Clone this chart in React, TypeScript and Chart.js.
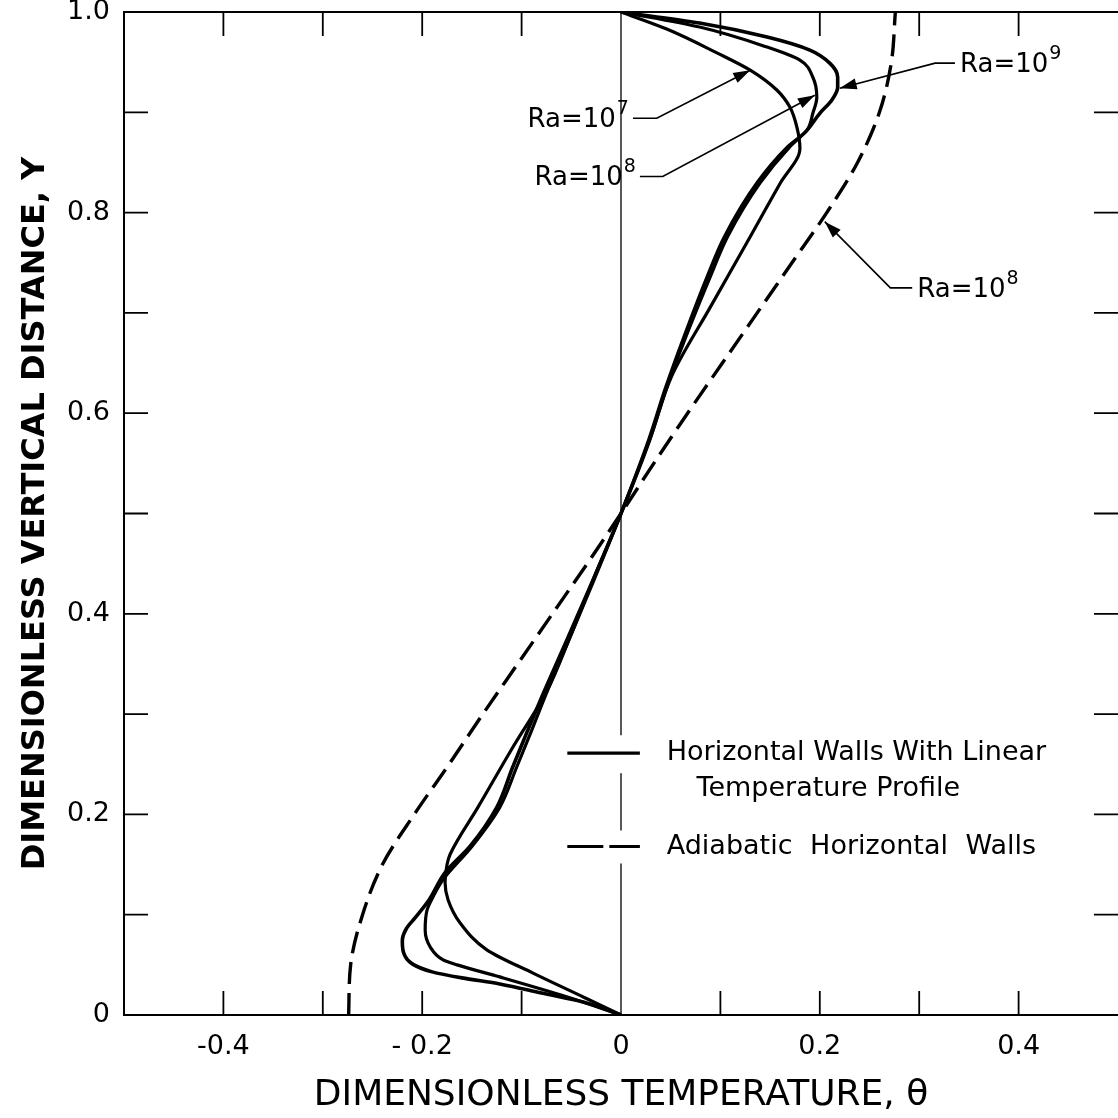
import React, { useEffect, useRef } from "react";
import { Chart, registerables } from "chart.js";

Chart.register(...registerables);

// ---------- data ----------
// Ra = 10^9, horizontal walls with linear temperature profile
const ra9Theta = [0, -0.038, -0.08, -0.122, -0.16, -0.19, -0.21, -0.219, -0.22, -0.216, -0.207, -0.193, -0.177, -0.152, -0.125, -0.109, -0.095, -0.078, -0.054, -0.028, 0, 0.029, 0.046, 0.069, 0.09, 0.107, 0.14, 0.169, 0.187, 0.2, 0.212, 0.218, 0.218, 0.21, 0.19, 0.147, 0.079, 0];
const ra9Y = [0, 0.013, 0.022, 0.031, 0.037, 0.043, 0.051, 0.063, 0.074, 0.086, 0.097, 0.115, 0.142, 0.168, 0.207, 0.247, 0.281, 0.321, 0.375, 0.434, 0.5, 0.574, 0.626, 0.686, 0.737, 0.776, 0.83, 0.865, 0.882, 0.899, 0.912, 0.925, 0.935, 0.949, 0.962, 0.975, 0.989, 1];

// Ra = 10^8, linear profile
const ra8Theta = [0, -0.054, -0.122, -0.165, -0.179, -0.192, -0.197, -0.195, -0.189, -0.179, -0.15, -0.122, -0.105, -0.091, -0.075, -0.052, -0.027, 0, 0.028, 0.045, 0.067, 0.087, 0.104, 0.137, 0.167, 0.187, 0.193, 0.197, 0.193, 0.18, 0.147, 0.079, 0];
const ra8Y = [0, 0.018, 0.038, 0.05, 0.055, 0.068, 0.085, 0.105, 0.118, 0.135, 0.168, 0.207, 0.247, 0.281, 0.321, 0.375, 0.434, 0.5, 0.574, 0.626, 0.686, 0.737, 0.776, 0.83, 0.865, 0.882, 0.899, 0.915, 0.935, 0.952, 0.965, 0.985, 1];

// Ra = 10^7, linear profile
const ra7Theta = [0, -0.038, -0.089, -0.135, -0.162, -0.174, -0.177, -0.175, -0.172, -0.144, -0.11, -0.074, -0.052, -0.028, 0, 0.029, 0.051, 0.09, 0.13, 0.16, 0.18, 0.177, 0.17, 0.157, 0.13, 0.097, 0.046, 0];
const ra7Y = [0, 0.018, 0.042, 0.065, 0.092, 0.115, 0.132, 0.15, 0.16, 0.207, 0.265, 0.324, 0.375, 0.434, 0.5, 0.574, 0.637, 0.706, 0.776, 0.829, 0.864, 0.885, 0.905, 0.922, 0.942, 0.959, 0.983, 1];

// Ra = 10^8, adiabatic horizontal walls
const adiaTheta = [-0.274, -0.272, -0.26, -0.24, -0.208, -0.173, -0.139, -0.104, -0.069, -0.034, 0, 0.033, 0.067, 0.102, 0.137, 0.172, 0.207, 0.238, 0.26, 0.272, 0.276];
const adiaY = [0, 0.05, 0.1, 0.15, 0.2, 0.25, 0.3, 0.35, 0.4, 0.45, 0.5, 0.55, 0.6, 0.65, 0.7, 0.75, 0.8, 0.85, 0.9, 0.95, 1.0];

// theta = 0 reference line
const zeroLineTheta = [0, 0];
const zeroLineY = [0, 1];

// tick labels
const xTickValues = [-0.4, -0.2, 0, 0.2, 0.4];
const xTickLabels = ["-0.4", "- 0.2", "0", "0.2", "0.4"];
const yTickValues = [0, 0.2, 0.4, 0.6, 0.8, 1.0];
const yTickLabels = ["0", "0.2", "0.4", "0.6", "0.8", "1.0"];

const xTitle = "DIMENSIONLESS TEMPERATURE, \u03B8";
const yTitle = "DIMENSIONLESS VERTICAL DISTANCE, Y";

// annotations (labels with arrows), in data coordinates
const annoBase = ["Ra=10", "Ra=10", "Ra=10", "Ra=10"];
const annoExp = ["7", "8", "9", "8"];
const annoTextTheta = [-0.094, -0.087, 0.341, 0.298];
const annoTextY = [0.892, 0.834, 0.947, 0.723];
const annoBendTheta = [0.036, 0.042, 0.316, 0.271];
const annoTipTheta = [0.13, 0.195, 0.22, 0.205];
const annoTipY = [0.942, 0.917, 0.924, 0.791];

// legend
const legendLine1 = ["Horizontal Walls With Linear", "Temperature Profile"];
const legendLine2 = ["Adiabatic Horizontal Walls"];
const legendSampleTheta = [-0.054, 0.019];
const legendTextTheta = [0.046, 0.076];
const legendY = [0.261, 0.225, 0.168];

const FONT = '"DejaVu Sans", "Noto Sans", sans-serif';
const TICK = 24;

const pts = (xs: number[], ys: number[]) => xs.map((x, i) => ({ x, y: ys[i] }));

function arrowHead(ctx: CanvasRenderingContext2D, fx: number, fy: number, tx: number, ty: number) {
  const ang = Math.atan2(ty - fy, tx - fx);
  const L = 17;
  const W = 5.5;
  const c = Math.cos(ang);
  const s = Math.sin(ang);
  ctx.beginPath();
  ctx.moveTo(tx, ty);
  ctx.lineTo(tx - L * c + W * s, ty - L * s - W * c);
  ctx.lineTo(tx - L * c - W * s, ty - L * s + W * c);
  ctx.closePath();
  ctx.fill();
}

const framePlugin = {
  id: "framePlugin",
  afterDatasetsDraw(chart: any) {
    const { ctx, chartArea: a, scales } = chart;
    const xs = scales.x;
    const ys = scales.y;
    const px = (v: number) => xs.getPixelForValue(v);
    const py = (v: number) => ys.getPixelForValue(v);
    ctx.save();

    // ---- legend ----
    const sx0 = px(legendSampleTheta[0]);
    const sx1 = px(legendSampleTheta[1]);
    const ly1 = py(legendY[0]);
    const ly3 = py(legendY[2]);
    ctx.fillStyle = "#fff";
    ctx.fillRect(sx0 - 4, ly1 - 18, sx1 - sx0 + 8, 38);
    ctx.fillRect(sx0 - 4, ly3 - 16, sx1 - sx0 + 8, 33);
    ctx.strokeStyle = "#000";
    ctx.lineWidth = 3.2;
    ctx.beginPath();
    ctx.moveTo(sx0, ly1);
    ctx.lineTo(sx1, ly1);
    ctx.stroke();
    ctx.setLineDash([36, 6]);
    ctx.beginPath();
    ctx.moveTo(sx0, ly3);
    ctx.lineTo(sx1, ly3);
    ctx.stroke();
    ctx.setLineDash([]);
    ctx.fillStyle = "#000";
    ctx.font = `27px ${FONT}`;
    ctx.textBaseline = "middle";
    ctx.textAlign = "left";
    ctx.fillText(legendLine1[0], px(legendTextTheta[0]), ly1);
    ctx.fillText(legendLine1[1], px(legendTextTheta[1]), py(legendY[1]));
    const anyCtx = ctx as any;
    const prevWS = anyCtx.wordSpacing;
    if (prevWS !== undefined) anyCtx.wordSpacing = "9px";
    ctx.fillText(legendLine2[0], px(legendTextTheta[0]), ly3);
    if (prevWS !== undefined) anyCtx.wordSpacing = prevWS;

    // ---- annotations ----
    for (let i = 0; i < annoBase.length; i++) {
      const tx = px(annoTextTheta[i]);
      const ty = py(annoTextY[i]);
      ctx.font = `26px ${FONT}`;
      ctx.textBaseline = "middle";
      ctx.fillText(annoBase[i], tx, ty);
      const w1 = ctx.measureText(annoBase[i]).width;
      ctx.font = `19px ${FONT}`;
      ctx.fillText(annoExp[i], tx + w1 + 1, ty - 11);
      const w2 = ctx.measureText(annoExp[i]).width;
      const tipX = px(annoTipTheta[i]);
      const tipY = py(annoTipY[i]);
      const bendX = px(annoBendTheta[i]);
      const startX = tipX > tx ? tx + w1 + w2 + 5 : tx - 5;
      const ly = ty - 2;
      ctx.lineWidth = 1.6;
      ctx.beginPath();
      ctx.moveTo(startX, ly);
      ctx.lineTo(bendX, ly);
      ctx.lineTo(tipX, tipY);
      ctx.stroke();
      arrowHead(ctx, bendX, ly, tipX, tipY);
    }

    // ---- frame ----
    ctx.strokeStyle = "#000";
    ctx.lineWidth = 2;
    ctx.beginPath();
    ctx.moveTo(a.right, a.top);
    ctx.lineTo(a.left, a.top);
    ctx.lineTo(a.left, a.bottom);
    ctx.lineTo(a.right, a.bottom);
    ctx.stroke();

    // ---- inward ticks ----
    ctx.lineWidth = 1.8;
    ctx.beginPath();
    xs.ticks.forEach((t: any) => {
      const v = t.value;
      if (Math.abs(v) < 1e-9 || Math.abs(v) > 0.499) return;
      const x = px(v);
      ctx.moveTo(x, a.top);
      ctx.lineTo(x, a.top + TICK);
      ctx.moveTo(x, a.bottom);
      ctx.lineTo(x, a.bottom - TICK);
    });
    ys.ticks.forEach((t: any) => {
      const v = t.value;
      if (v < 0.001 || v > 0.999) return;
      const y = py(v);
      ctx.moveTo(a.left, y);
      ctx.lineTo(a.left + TICK, y);
      ctx.moveTo(a.right, y);
      ctx.lineTo(a.right - TICK, y);
    });
    ctx.stroke();
    ctx.restore();
  },
};

const labelFor = (v: number, values: number[], labels: string[]) => {
  const i = values.findIndex((t) => Math.abs(t - v) < 1e-6);
  return i >= 0 ? labels[i] : "";
};

export default function App() {
  const ref = useRef<HTMLCanvasElement>(null);

  useEffect(() => {
    document.body.style.margin = "0";
    const curve = (data: any[], w: number) => ({
      data,
      showLine: true,
      borderColor: "#000",
      borderWidth: w,
      pointRadius: 0,
      indexAxis: "y",
      cubicInterpolationMode: "monotone",
      fill: false,
    });
    const chart = new Chart(ref.current as HTMLCanvasElement, {
      type: "scatter",
      data: {
        datasets: [
          { label: "Ra=10^9", ...curve(pts(ra9Theta, ra9Y), 3.6) },
          { label: "Ra=10^8", ...curve(pts(ra8Theta, ra8Y), 3.2) },
          { label: "Ra=10^7", ...curve(pts(ra7Theta, ra7Y), 3.2) },
          {
            label: "Adiabatic Ra=10^8",
            ...curve(pts(adiaTheta, adiaY), 3.4),
            borderDash: [22, 9],
          },
          {
            label: "theta=0",
            data: pts(zeroLineTheta, zeroLineY),
            showLine: true,
            borderColor: "#111",
            borderWidth: 1.4,
            pointRadius: 0,
            tension: 0,
          },
        ],
      } as any,
      options: {
        responsive: false,
        animation: false,
        indexAxis: "y",
        layout: { padding: { top: 12, right: 0, left: 0, bottom: 0 } },
        plugins: { legend: { display: false }, tooltip: { enabled: false } },
        scales: {
          x: {
            type: "linear",
            position: "bottom",
            min: -0.5,
            max: 0.5,
            afterFit(s: any) {
              s.height = 103;
              s.paddingLeft = 0;
              s.paddingRight = 0;
            },
            grid: { display: false, drawTicks: false },
            border: { display: false },
            ticks: {
              stepSize: 0.1,
              autoSkip: false,
              maxRotation: 0,
              padding: 16,
              color: "#000",
              font: { family: FONT, size: 27 },
              callback: (v: any) => labelFor(Number(v), xTickValues, xTickLabels),
            },
            title: {
              display: true,
              text: xTitle,
              color: "#000",
              font: { family: FONT, size: 36 },
              padding: { top: 0, bottom: 1 },
            },
          },
          y: {
            type: "linear",
            position: "left",
            min: 0,
            max: 1,
            afterFit(s: any) {
              s.width = 124;
              s.paddingTop = 0;
              s.paddingBottom = 0;
            },
            grid: { display: false, drawTicks: false },
            border: { display: false },
            ticks: {
              stepSize: 0.1,
              autoSkip: false,
              padding: 14,
              color: "#000",
              font: { family: FONT, size: 27 },
              callback: (v: any) => labelFor(Number(v), yTickValues, yTickLabels),
            },
            title: {
              display: true,
              text: yTitle,
              color: "#000",
              font: { family: FONT, size: 32, weight: "bold" },
              padding: { top: 16, bottom: 0 },
            },
          },
        },
      } as any,
      plugins: [framePlugin],
    });
    return () => chart.destroy();
  }, []);

  return (
    <div style={{ width: 1118, height: 1118 }}>
      <canvas ref={ref} width={1118} height={1118} style={{ display: "block" }} />
    </div>
  );
}
